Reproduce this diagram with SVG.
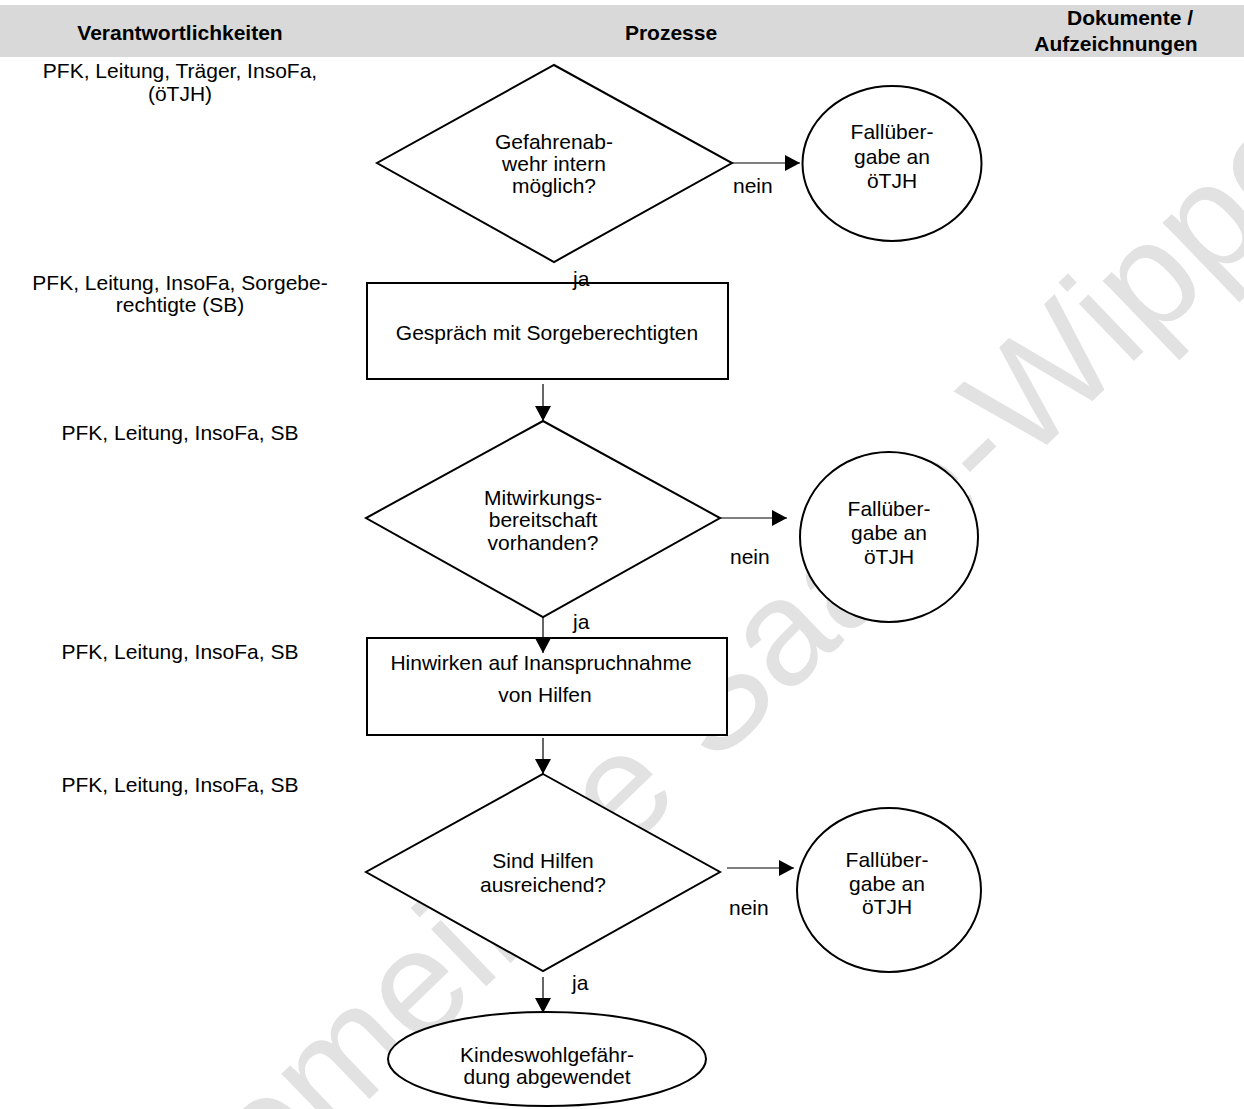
<svg xmlns="http://www.w3.org/2000/svg" width="1244" height="1109" viewBox="0 0 1244 1109">
<style>
text{font-family:"Liberation Sans",Arial,sans-serif;font-size:21px;fill:#000}
.h{font-weight:bold}
.c{text-anchor:middle}
.shape{fill:#fff;stroke:#000;stroke-width:2}
.conn{stroke:#000;stroke-width:1.2;fill:none}
.wm{font-family:"Liberation Sans",Arial,sans-serif;font-size:150px;fill:#e2e2e2}
</style>
<defs>
<marker id="ah" markerUnits="userSpaceOnUse" viewBox="0 0 15 16" markerWidth="15" markerHeight="16" refX="15" refY="8" orient="auto">
<path d="M0,0 L15,8 L0,16 z" fill="#000"/>
</marker>
</defs>
<rect x="0" y="5" width="1244" height="52" fill="#d9d9d9"/>
<g id="header">
<text class="h c" x="180" y="40">Verantwortlichkeiten</text>
<text class="h c" x="671" y="40">Prozesse</text>
<text class="h c" x="1130" y="25">Dokumente /</text>
<text class="h c" x="1116" y="51">Aufzeichnungen</text>
</g>
<text class="wm" transform="translate(209,1254) rotate(-44)">gemeinde Saale-Wipper</text>
<g id="responsibilities">
<text class="c" x="180" y="78">PFK, Leitung, Träger, InsoFa,</text>
<text class="c" x="180" y="101">(öTJH)</text>
<text class="c" x="180" y="290">PFK, Leitung, InsoFa, Sorgebe-</text>
<text class="c" x="180" y="312">rechtigte (SB)</text>
<text class="c" x="180" y="440">PFK, Leitung, InsoFa, SB</text>
<text class="c" x="180" y="659">PFK, Leitung, InsoFa, SB</text>
<text class="c" x="180" y="792">PFK, Leitung, InsoFa, SB</text>
</g>
<g id="connectors">
<line class="conn" x1="732" y1="163" x2="800" y2="163" marker-end="url(#ah)"/>
<line class="conn" x1="543" y1="384" x2="543" y2="421" marker-end="url(#ah)"/>
<line class="conn" x1="720" y1="518" x2="787" y2="518" marker-end="url(#ah)"/>
<line class="conn" x1="727" y1="868" x2="794" y2="868" marker-end="url(#ah)"/>
<line class="conn" x1="543" y1="738" x2="543" y2="774" marker-end="url(#ah)"/>
<line class="conn" x1="543" y1="977" x2="543" y2="1013" marker-end="url(#ah)"/>
</g>
<g id="d1">
<polygon class="shape" points="554,65 732,163 554,262 377,163"/>
<text class="c" x="554" y="149">Gefahrenab-</text>
<text class="c" x="554" y="171">wehr intern</text>
<text class="c" x="554" y="193">möglich?</text>
</g>
<g id="c1">
<ellipse class="shape" cx="892" cy="163.5" rx="89.5" ry="77.5"/>
<text class="c" x="892" y="139">Fallüber-</text>
<text class="c" x="892" y="164">gabe an</text>
<text class="c" x="892" y="188">öTJH</text>
</g>
<g id="r1">
<rect class="shape" x="367" y="283" width="361" height="96"/>
<text class="c" x="547" y="340">Gespräch mit Sorgeberechtigten</text>
</g>
<g id="d2">
<polygon class="shape" points="543,421 720,518 543,617 366,518"/>
<text class="c" x="543" y="505">Mitwirkungs-</text>
<text class="c" x="543" y="527">bereitschaft</text>
<text class="c" x="543" y="550">vorhanden?</text>
</g>
<g id="c2">
<ellipse class="shape" cx="889" cy="537" rx="89" ry="85"/>
<text class="c" x="889" y="516">Fallüber-</text>
<text class="c" x="889" y="540">gabe an</text>
<text class="c" x="889" y="564">öTJH</text>
</g>
<g id="r2">
<rect class="shape" x="367" y="638" width="360" height="97"/>
<text class="c" x="541" y="670">Hinwirken auf Inanspruchnahme</text>
<text class="c" x="545" y="702">von Hilfen</text>
</g>
<line class="conn" x1="543" y1="617" x2="543" y2="653" marker-end="url(#ah)"/>
<g id="d3">
<polygon class="shape" points="543,774 720,872 543,971 366,872"/>
<text class="c" x="543" y="868">Sind Hilfen</text>
<text class="c" x="543" y="892">ausreichend?</text>
</g>
<g id="c3">
<ellipse class="shape" cx="889" cy="890" rx="92" ry="82"/>
<text class="c" x="887" y="867">Fallüber-</text>
<text class="c" x="887" y="891">gabe an</text>
<text class="c" x="887" y="914">öTJH</text>
</g>
<g id="end">
<ellipse class="shape" cx="547" cy="1059" rx="159" ry="47"/>
<text class="c" x="547" y="1062">Kindeswohlgefähr-</text>
<text class="c" x="547" y="1084">dung abgewendet</text>
</g>
<g id="labels">
<text x="573" y="286">ja</text>
<text x="573" y="629">ja</text>
<text x="572" y="990">ja</text>
<text x="733" y="193">nein</text>
<text x="730" y="564">nein</text>
<text x="729" y="915">nein</text>
</g>
</svg>
